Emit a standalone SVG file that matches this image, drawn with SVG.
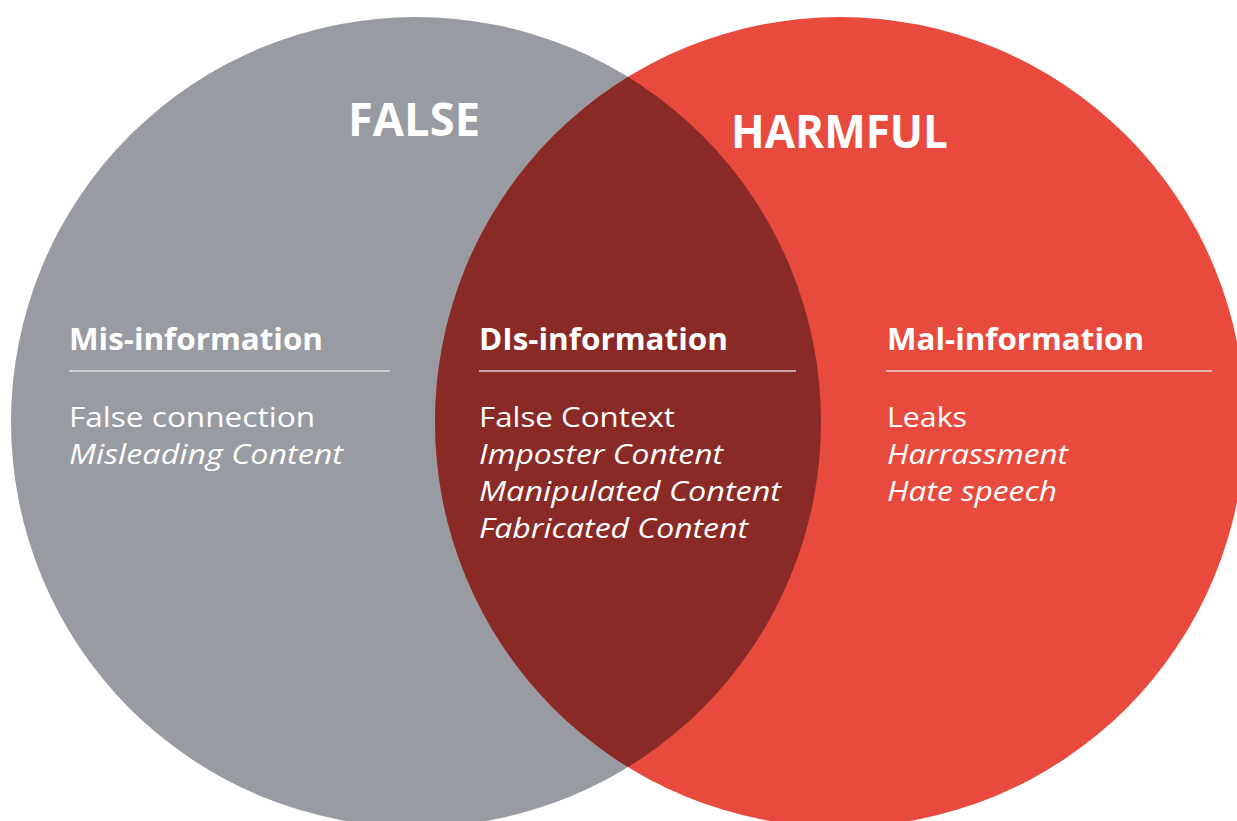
<svg xmlns="http://www.w3.org/2000/svg" width="1237" height="821" viewBox="0 0 1237 821">
<defs>
<clipPath id="clipGray"><circle cx="416" cy="422" r="405"/></clipPath>
</defs>
<style>
text{font-family:"Open Sans","Liberation Sans",sans-serif;fill:#ffffff}
.title{font-weight:700;font-size:46px}
.head{font-weight:700;font-size:31px}
.body{font-weight:400;font-size:28px}
.it{font-style:italic}
.rule{stroke:#ececec;stroke-width:1.5;opacity:0.85}
</style>
<rect width="1237" height="821" fill="#ffffff"/>
<g id="circle-false">
<circle cx="416" cy="422" r="405" fill="#989ba1"/>
<text class="title" x="348" y="136" textLength="132" lengthAdjust="spacingAndGlyphs">FALSE</text>
</g>
<g id="circle-harmful">
<circle cx="840" cy="422" r="405" fill="#e84b3e"/>
<text class="title" x="731" y="148" textLength="217" lengthAdjust="spacingAndGlyphs">HARMFUL</text>
</g>
<g id="intersection">
<circle cx="840" cy="422" r="405" fill="#892a26" clip-path="url(#clipGray)"/>
</g>
<g id="mis-information">
<text class="head" x="69" y="350" textLength="254" lengthAdjust="spacingAndGlyphs">Mis-information</text>
<line class="rule" x1="69" y1="371" x2="390" y2="371"/>
<text class="body" x="69" y="427" textLength="246" lengthAdjust="spacingAndGlyphs">False connection</text>
<text class="body it" x="69" y="464" textLength="274" lengthAdjust="spacingAndGlyphs">Misleading Content</text>
</g>
<g id="dis-information">
<text class="head" x="479" y="350" textLength="249" lengthAdjust="spacingAndGlyphs">DIs-information</text>
<line class="rule" x1="479" y1="371" x2="796" y2="371"/>
<text class="body" x="479" y="427" textLength="196" lengthAdjust="spacingAndGlyphs">False Context</text>
<text class="body it" x="479" y="464" textLength="244" lengthAdjust="spacingAndGlyphs">Imposter Content</text>
<text class="body it" x="479" y="501" textLength="302" lengthAdjust="spacingAndGlyphs">Manipulated Content</text>
<text class="body it" x="479" y="538" textLength="269" lengthAdjust="spacingAndGlyphs">Fabricated Content</text>
</g>
<g id="mal-information">
<text class="head" x="887" y="350" textLength="257" lengthAdjust="spacingAndGlyphs">Mal-information</text>
<line class="rule" x1="886" y1="371" x2="1212" y2="371"/>
<text class="body" x="887" y="427" textLength="80" lengthAdjust="spacingAndGlyphs">Leaks</text>
<text class="body it" x="887" y="464" textLength="181" lengthAdjust="spacingAndGlyphs">Harrassment</text>
<text class="body it" x="887" y="501" textLength="170" lengthAdjust="spacingAndGlyphs">Hate speech</text>
</g>
</svg>
